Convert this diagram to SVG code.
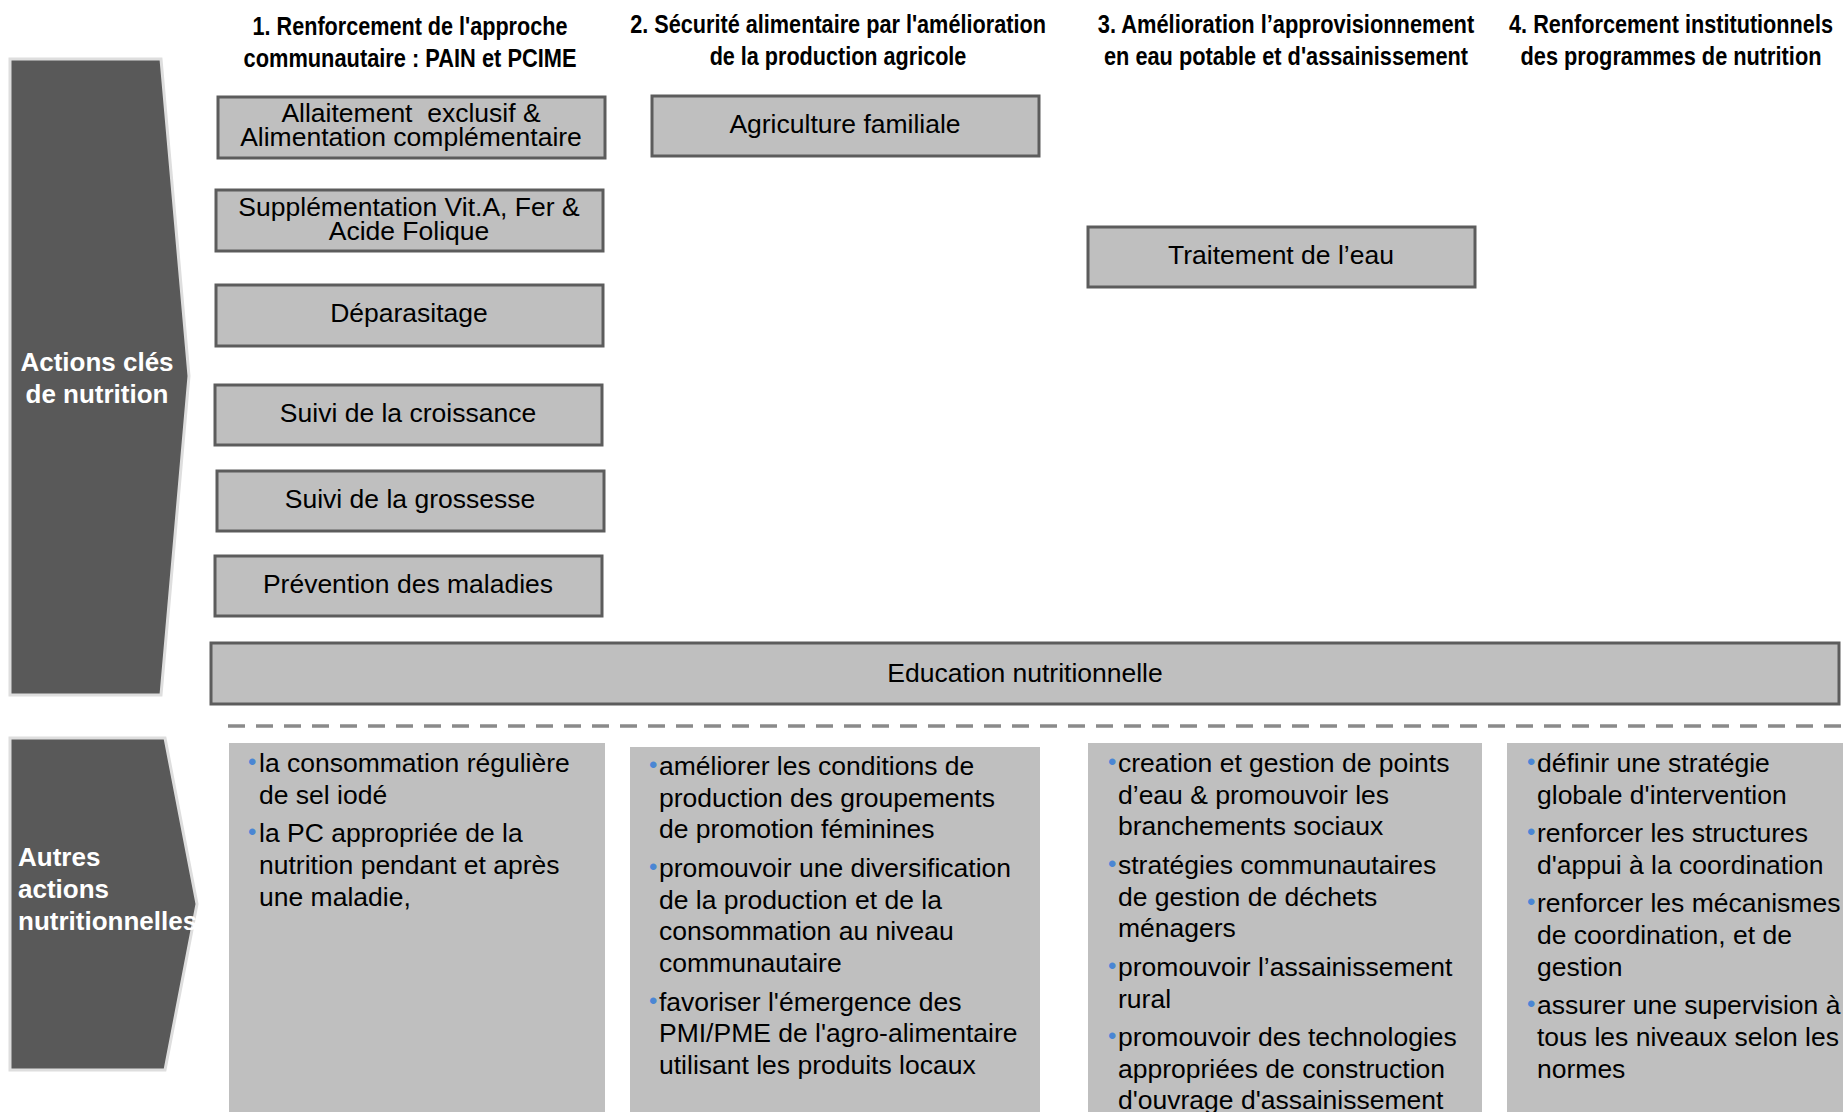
<svg xmlns="http://www.w3.org/2000/svg" width="1843" height="1112" viewBox="0 0 1843 1112">
<style>
.h{font-family:"Liberation Sans Narrow","Liberation Sans",Arial,sans-serif;font-weight:bold;font-size:26.5px;fill:#000;text-anchor:middle}
.box{fill:#bfbfbf;stroke:#5c5c5c;stroke-width:3}
.bt{font-family:"Liberation Sans",Arial,sans-serif;font-size:26.5px;fill:#000;text-anchor:middle}
.tab{fill:#595959;stroke:#dedede;stroke-width:3}
.tt{font-family:"Liberation Sans",Arial,sans-serif;font-weight:bold;font-size:26px;fill:#fff}
.panel{fill:#bfbfbf}
.pt{font-family:"Liberation Sans",Arial,sans-serif;font-size:26.5px;fill:#000}
.bul{font-family:"Liberation Sans",Arial,sans-serif;fill:#4a86d4;font-size:24px}
</style>
<rect width="1843" height="1112" fill="#fff"/>

<g id="headings">
<text class="h" transform="translate(410,35) scale(0.82,1)" textLength="384" lengthAdjust="spacingAndGlyphs">1. Renforcement de l'approche</text>
<text class="h" transform="translate(410,67) scale(0.82,1)" textLength="406" lengthAdjust="spacingAndGlyphs">communautaire : PAIN et PCIME</text>
<text class="h" transform="translate(838,33) scale(0.82,1)" textLength="507" lengthAdjust="spacingAndGlyphs">2. Sécurité alimentaire par l'amélioration</text>
<text class="h" transform="translate(838,65) scale(0.82,1)" textLength="313" lengthAdjust="spacingAndGlyphs">de la production agricole</text>
<text class="h" transform="translate(1286,33) scale(0.82,1)" textLength="459" lengthAdjust="spacingAndGlyphs">3. Amélioration l’approvisionnement</text>
<text class="h" transform="translate(1286,65) scale(0.82,1)" textLength="444" lengthAdjust="spacingAndGlyphs">en eau potable et d'assainissement</text>
<text class="h" transform="translate(1671,33) scale(0.82,1)" textLength="395" lengthAdjust="spacingAndGlyphs">4. Renforcement institutionnels</text>
<text class="h" transform="translate(1671,65) scale(0.82,1)" textLength="367" lengthAdjust="spacingAndGlyphs">des programmes de nutrition</text>
</g>

<g id="tab-actions-cles">
<polygon class="tab" points="10,59 161,59 189,376 161,695 10,695"/>
<text class="tt" x="97" y="371" text-anchor="middle">Actions clés</text>
<text class="tt" x="97" y="403" text-anchor="middle">de nutrition</text>
</g>

<g id="tab-autres-actions">
<polygon class="tab" points="10,738 165,738 197,904 165,1070 10,1070"/>
<text class="tt" x="18" y="866">Autres</text>
<text class="tt" x="18" y="898">actions</text>
<text class="tt" x="18" y="930">nutritionnelles</text>
</g>

<g id="node-allaitement">
<rect class="box" x="218" y="97" width="387" height="61"/>
<text class="bt" x="411" y="122" xml:space="preserve">Allaitement  exclusif &amp;</text>
<text class="bt" x="411" y="146">Alimentation complémentaire</text>
</g>
<g id="node-supplementation">
<rect class="box" x="216" y="190" width="387" height="61"/>
<text class="bt" x="409" y="216">Supplémentation Vit.A, Fer &amp;</text>
<text class="bt" x="409" y="240">Acide Folique</text>
</g>
<g id="node-deparasitage">
<rect class="box" x="216" y="285" width="387" height="61"/>
<text class="bt" x="409" y="322">Déparasitage</text>
</g>
<g id="node-croissance">
<rect class="box" x="215" y="385" width="387" height="60"/>
<text class="bt" x="408" y="422">Suivi de la croissance</text>
</g>
<g id="node-grossesse">
<rect class="box" x="217" y="471" width="387" height="60"/>
<text class="bt" x="410" y="508">Suivi de la grossesse</text>
</g>
<g id="node-prevention">
<rect class="box" x="215" y="556" width="387" height="60"/>
<text class="bt" x="408" y="593">Prévention des maladies</text>
</g>
<g id="node-agriculture">
<rect class="box" x="652" y="96" width="387" height="60"/>
<text class="bt" x="845" y="133">Agriculture familiale</text>
</g>
<g id="node-traitement">
<rect class="box" x="1088" y="227" width="387" height="60"/>
<text class="bt" x="1281" y="264">Traitement de l’eau</text>
</g>
<g id="node-education">
<rect class="box" x="211" y="643" width="1628" height="61"/>
<text class="bt" x="1025" y="682">Education nutritionnelle</text>
</g>

<g id="connectors">
<line x1="228" y1="726" x2="1843" y2="726" stroke="#8a8a8a" stroke-width="3.5" stroke-dasharray="17 11"/>
</g>

<g id="panel-1">
<rect class="panel" x="229" y="743" width="376" height="369"/>
<text class="bul" x="248" y="770">•</text>
<text class="pt" x="259" y="772">la consommation régulière</text>
<text class="pt" x="259" y="804">de sel iodé</text>
<text class="bul" x="248" y="840">•</text>
<text class="pt" x="259" y="842">la PC appropriée de la</text>
<text class="pt" x="259" y="874">nutrition pendant et après</text>
<text class="pt" x="259" y="906">une maladie,</text>
</g>

<g id="panel-2">
<rect class="panel" x="630" y="747" width="410" height="365"/>
<text class="bul" x="649" y="773">•</text>
<text class="pt" x="659" y="775">améliorer les conditions de</text>
<text class="pt" x="659" y="807">production des groupements</text>
<text class="pt" x="659" y="838">de promotion féminines</text>
<text class="bul" x="649" y="875">•</text>
<text class="pt" x="659" y="877">promouvoir une diversification</text>
<text class="pt" x="659" y="909">de la production et de la</text>
<text class="pt" x="659" y="940">consommation au niveau</text>
<text class="pt" x="659" y="972">communautaire</text>
<text class="bul" x="649" y="1009">•</text>
<text class="pt" x="659" y="1011">favoriser l'émergence des</text>
<text class="pt" x="659" y="1042">PMI/PME de l'agro-alimentaire</text>
<text class="pt" x="659" y="1074">utilisant les produits locaux</text>
</g>

<g id="panel-3">
<rect class="panel" x="1088" y="743" width="394" height="369"/>
<text class="bul" x="1108" y="770">•</text>
<text class="pt" x="1118" y="772">creation et gestion de points</text>
<text class="pt" x="1118" y="804">d’eau &amp; promouvoir les</text>
<text class="pt" x="1118" y="835">branchements sociaux</text>
<text class="bul" x="1108" y="872">•</text>
<text class="pt" x="1118" y="874">stratégies communautaires</text>
<text class="pt" x="1118" y="906">de gestion de déchets</text>
<text class="pt" x="1118" y="937">ménagers</text>
<text class="bul" x="1108" y="974">•</text>
<text class="pt" x="1118" y="976">promouvoir l’assainissement</text>
<text class="pt" x="1118" y="1008">rural</text>
<text class="bul" x="1108" y="1044">•</text>
<text class="pt" x="1118" y="1046">promouvoir des technologies</text>
<text class="pt" x="1118" y="1078">appropriées de construction</text>
<text class="pt" x="1118" y="1109">d'ouvrage d'assainissement</text>
</g>

<g id="panel-4">
<rect class="panel" x="1507" y="743" width="336" height="369"/>
<text class="bul" x="1527" y="770">•</text>
<text class="pt" x="1537" y="772">définir une stratégie</text>
<text class="pt" x="1537" y="804">globale d'intervention</text>
<text class="bul" x="1527" y="840">•</text>
<text class="pt" x="1537" y="842">renforcer les structures</text>
<text class="pt" x="1537" y="874">d'appui à la coordination</text>
<text class="bul" x="1527" y="910">•</text>
<text class="pt" x="1537" y="912">renforcer les mécanismes</text>
<text class="pt" x="1537" y="944">de coordination, et de</text>
<text class="pt" x="1537" y="976">gestion</text>
<text class="bul" x="1527" y="1012">•</text>
<text class="pt" x="1537" y="1014">assurer une supervision à</text>
<text class="pt" x="1537" y="1046">tous les niveaux selon les</text>
<text class="pt" x="1537" y="1078">normes</text>
</g>
</svg>
